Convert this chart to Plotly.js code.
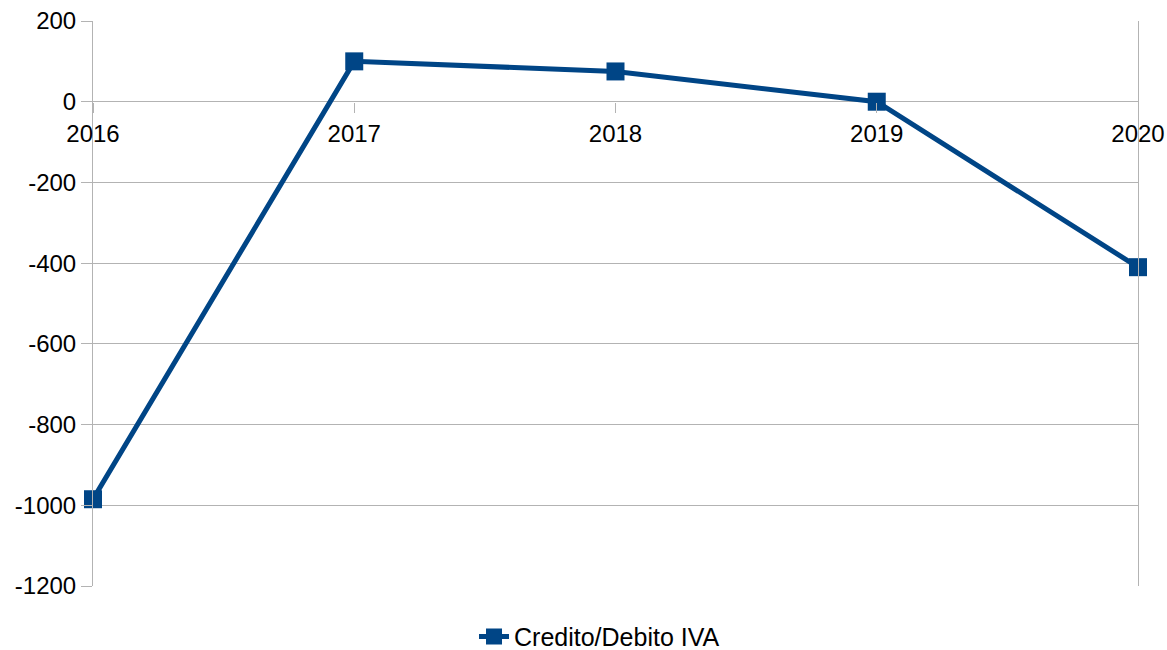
<!DOCTYPE html>
<html>
<head>
<meta charset="utf-8">
<script src="https://cdn.plot.ly/plotly-3.0.1.min.js"></script>
<style>html,body{margin:0;padding:0;background:#fff;}#chart{width:1167px;height:650px;}</style>
</head>
<body>
<div id="chart"></div>
<script>
const years = [2016, 2017, 2018, 2019, 2020];
const values = [-985, 100, 75, 0, -410];
const seriesName = "Credito/Debito IVA";
const yTicks = [200, 0, -200, -400, -600, -800, -1000, -1200];

const yMin = -1200, yMax = 200;
const blue = "#004586";
const grid = "#b3b3b3";

const trace = {
  x: years, y: values, name: seriesName, type: "scatter", mode: "lines+markers",
  line: {color: blue, width: 5},
  marker: {symbol: "square", size: 18, color: blue},
  cliponaxis: false
};

const layout = {
  width: 1167, height: 650,
  margin: {l: 93, r: 29, t: 21, b: 64, autoexpand: false},
  paper_bgcolor: "#fff", plot_bgcolor: "#fff",
  font: {family: "Liberation Sans, Arial, sans-serif", size: 24, color: "#000"},
  showlegend: true,
  legend: {orientation: "h", x: 0.4847, xanchor: "center", y: -0.09, yanchor: "middle", font: {size: 25}},
  xaxis: {
    range: [2016, 2020], tickvals: years, ticktext: years.map(String),
    anchor: "free", position: (0 - yMin) / (yMax - yMin),
    showgrid: false, zeroline: false, showline: false,
    ticks: "outside", ticklen: 10, tickcolor: grid, tickwidth: 1,
    fixedrange: true, automargin: false
  },
  yaxis: {
    range: [yMin, yMax], tickvals: yTicks, ticktext: yTicks.map(String),
    showgrid: true, gridcolor: grid, gridwidth: 1, zeroline: false,
    showline: true, linecolor: grid, linewidth: 1, mirror: true,
    ticks: "outside", ticklen: 11, tickcolor: grid, tickwidth: 1,
    fixedrange: true, automargin: false
  }
};

Plotly.newPlot("chart", [trace], layout, {displayModeBar: false, staticPlot: true});
</script>
</body>
</html>
